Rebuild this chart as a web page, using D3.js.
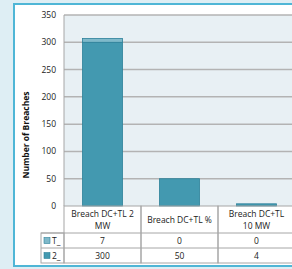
<!doctype html>
<html>
  <head>
    <script src="https://cdn.jsdelivr.net/npm/d3@7"></script>
    <style>
    body { margin: 0; background: #deeef4; }
    svg { display: block; font-family: "Open Sans", "DejaVu Sans", sans-serif; }
    .grid line { stroke: #b3b3b3; stroke-width: 1.5; }
    .cell { fill: none; stroke: #a6a6a6; stroke-width: 1; }
    </style>
  </head>
  <body>
    <svg width="292" height="269"></svg>
    <script>
      var categories = [["Breach DC+TL 2", "MW"], ["Breach DC+TL %"], ["Breach DC+TL", "10 MW"]];
      var seriesNames = ["T_", "2_"];
      var seriesBottom = [300, 50, 4];   // "2_"
      var seriesTop = [7, 0, 0];         // "T_"
      var yTicks = [0, 50, 100, 150, 200, 250, 300, 350];

      var svg = d3.select("svg");

      // panel
      svg.append("rect")
        .attr("x", 14).attr("y", 4).attr("width", 300).attr("height", 262)
        .attr("fill", "#ffffff").attr("stroke", "#4fb6d6").attr("stroke-width", 2);

      var x = d3.scaleBand()
        .domain(d3.range(categories.length))
        .range([64, 295])
        .paddingInner(0).paddingOuter(0);

      var y = d3.scaleLinear().domain([0, 350]).range([206, 15]);

      // plot background
      svg.append("rect")
        .attr("x", 64).attr("y", y(350)).attr("width", 240).attr("height", y(0) - y(350))
        .attr("fill", "#e8f0f4");

      svg.append("g").attr("class", "grid")
        .selectAll("line").data(yTicks.slice(1)).enter().append("line")
          .attr("x1", 64).attr("x2", 292)
          .attr("y1", d => y(d)).attr("y2", d => y(d));

      svg.append("line")
        .attr("x1", 64).attr("x2", 64).attr("y1", y(350)).attr("y2", y(0))
        .attr("stroke", "#a6a6a6");

      svg.append("g").selectAll("text").data(yTicks).enter().append("text")
        .attr("x", 56).attr("y", d => y(d) + 3)
        .attr("text-anchor", "end")
        .attr("font-size", 8.5).attr("fill", "#222")
        .text(d => d);

      svg.append("text")
        .attr("transform", "translate(29,135) rotate(-90)")
        .attr("text-anchor", "middle")
        .attr("font-size", 8.5).attr("font-weight", "bold").attr("fill", "#111")
        .text("Number of Breaches");

      var barW = 40;
      // bottom series
      svg.append("g").selectAll("rect").data(seriesBottom).enter().append("rect")
        .attr("x", (d, i) => x(i) + (x.bandwidth() - barW) / 2)
        .attr("y", d => y(d))
        .attr("width", barW)
        .attr("height", d => y(0) - y(d))
        .attr("fill", "#4399b0").attr("stroke", "#2c8099").attr("stroke-width", 0.8);
      // top series
      svg.append("g").selectAll("rect").data(seriesTop).enter().filter(d => d > 0).append("rect")
        .attr("x", (d, i) => x(seriesTop.indexOf(d)) + (x.bandwidth() - barW) / 2)
        .attr("y", (d) => y(seriesBottom[seriesTop.indexOf(d)] + d))
        .attr("width", barW)
        .attr("height", d => y(0) - y(d))
        .attr("fill", "#7fb9ca").attr("stroke", "#2c8099").attr("stroke-width", 0.8);

      // data table
      var rowY = [206, 233, 248, 263];
      var table = svg.append("g");
      categories.forEach((c, i) => {
        table.append("rect").attr("class", "cell")
          .attr("x", x(i)).attr("y", rowY[0]).attr("width", x.bandwidth()).attr("height", rowY[3] - rowY[0]);
        var t = table.append("text").attr("text-anchor", "middle")
          .attr("font-size", 8.5).attr("fill", "#222");
        var cy = c.length == 1 ? 223 : 217;
        c.forEach((line, k) => {
          t.append("tspan").attr("x", x(i) + x.bandwidth() / 2).attr("y", cy + k * 12).text(line);
        });
      });
      [rowY[1], rowY[2]].forEach(yy => {
        table.append("line").attr("x1", 41).attr("x2", 295).attr("y1", yy).attr("y2", yy)
          .attr("stroke", "#a6a6a6");
      });
      table.append("rect").attr("class", "cell")
        .attr("x", 41).attr("y", rowY[1]).attr("width", 23).attr("height", rowY[3] - rowY[1]);

      var rows = [seriesTop, seriesBottom];
      var keyColors = ["#7fb9ca", "#4399b0"];
      rows.forEach((vals, r) => {
        var cy = (rowY[r + 1] + rowY[r + 2]) / 2;
        table.append("rect").attr("x", 44).attr("y", cy - 3).attr("width", 6).attr("height", 6)
          .attr("fill", keyColors[r]).attr("stroke", "#2c8099").attr("stroke-width", 0.6);
        table.append("text").attr("x", 52).attr("y", cy + 3)
          .attr("font-size", 8.5).attr("fill", "#222").text(seriesNames[r]);
        vals.forEach((v, i) => {
          table.append("text").attr("x", x(i) + x.bandwidth() / 2).attr("y", cy + 3)
            .attr("text-anchor", "middle").attr("font-size", 8.5).attr("fill", "#222").text(v);
        });
      });
    </script>
  </body>
</html>
